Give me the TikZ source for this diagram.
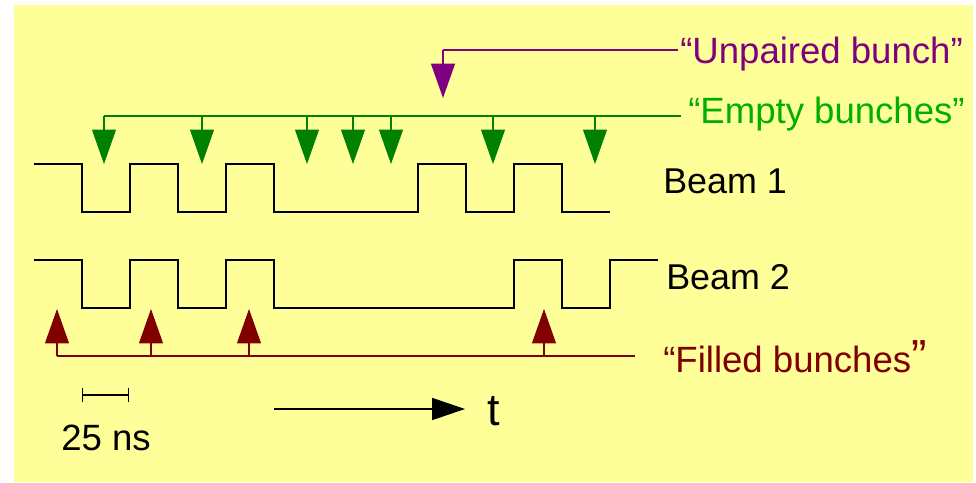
\documentclass[tikz,border=0pt]{standalone}
\usepackage{fontspec}
\setmainfont{Liberation Sans}
\usetikzlibrary{arrows.meta, positioning}
\definecolor{cBack}{RGB}{255,255,153}
\definecolor{cEmpty}{RGB}{0,128,0}
\definecolor{cEmptyTxt}{RGB}{0,176,0}
\definecolor{cUnpair}{RGB}{128,0,128}
\definecolor{cFilled}{RGB}{128,0,0}
\tikzset{
  lbl/.style={anchor=base west, inner sep=0pt, font=\fontsize{26}{30}\selectfont},
  beamlbl/.style={lbl, font=\fontsize{25.5}{30}\selectfont},
  wave/.style={line width=0.9pt, color=black},
  bus/.style={line width=0.75pt},
  tiparrow/.style={-{Triangle[length=0.86cm, width=0.6cm]}, line width=0.75pt},
  axisarrow/.style={-{Triangle[length=0.82cm, width=0.55cm]}, line width=0.9pt},
  scalebar/.style={{Bar[width=0.35cm]}-{Bar[width=0.35cm]}, line width=0.9pt}
}
\begin{document}
\begin{tikzpicture}[x=0.025cm, y=-0.025cm]
  \useasboundingbox (0,0) rectangle (976,482);
  \fill[cBack] (14,5) rectangle (973,482);

  % labels on the right
  \node[lbl, text=cUnpair] (unp) at (680,63) {“Unpaired bunch”};
  \node[lbl, text=cEmptyTxt] (emp) at (688,123) {“Empty bunches”};
  \node[beamlbl] (b1) at (663,193) {Beam 1};
  \node[beamlbl] (b2) at (666,289) {Beam 2};
  \node[lbl, text=cFilled] (fil) at (663,372)
      {“Filled bunches{\fontsize{33}{30}\selectfont ”}};
  \node[lbl] (ns) at (61,450) {25 ns};
  \node[lbl, font=\fontsize{32}{36}\selectfont] (t) at (487,425) {t};

  % bunch trains
  \draw[wave] (34,164) -| (82,212) -| (130,164) -| (178,212) -| (226,164)
      -| (274,212) -| (418,164) -| (466,212) -| (514,164) -| (562,212) -- (610,212);
  \draw[wave] (34,260) -| (82,308) -| (130,260) -| (178,308) -| (226,260)
      -| (274,308) -| (514,260) -| (562,308) -| (610,260) -- (658,260);

  % unpaired bunch
  \coordinate (uBus) at (443,50);
  \coordinate (uEnd) at (678,50);
  \coordinate (u1) at (443,98);
  \draw[bus, cUnpair] (uBus) -- (uEnd);
  \draw[tiparrow, cUnpair] (uBus) -- (u1);

  % empty bunches
  \coordinate (eBus) at (104,116);
  \coordinate (eEnd) at (681,116);
  \draw[bus, cEmpty] (eBus) -- (eEnd);
  \foreach \x [count=\i] in {104,202,307,353,391,493,595} {
    \coordinate (e\i) at (\x,164);
    \draw[tiparrow, cEmpty] (e\i |- eBus) -- (e\i);
  }

  % filled bunches
  \coordinate (fBus) at (57,356);
  \coordinate (fEnd) at (635,356);
  \draw[bus, cFilled] (fBus) -- (fEnd);
  \foreach \x [count=\i] in {57,151,249,544} {
    \coordinate (f\i) at (\x,309);
    \draw[tiparrow, cFilled] (f\i |- fBus) -- (f\i);
  }

  % time scale and axis
  \coordinate (sL) at (82,395);
  \coordinate (sR) at (129,395);
  \draw[scalebar] (sL) -- (sR);
  \coordinate (tL) at (274,409);
  \coordinate (tR) at (465,409);
  \draw[axisarrow] (tL) -- (tR);
\end{tikzpicture}
\end{document}
